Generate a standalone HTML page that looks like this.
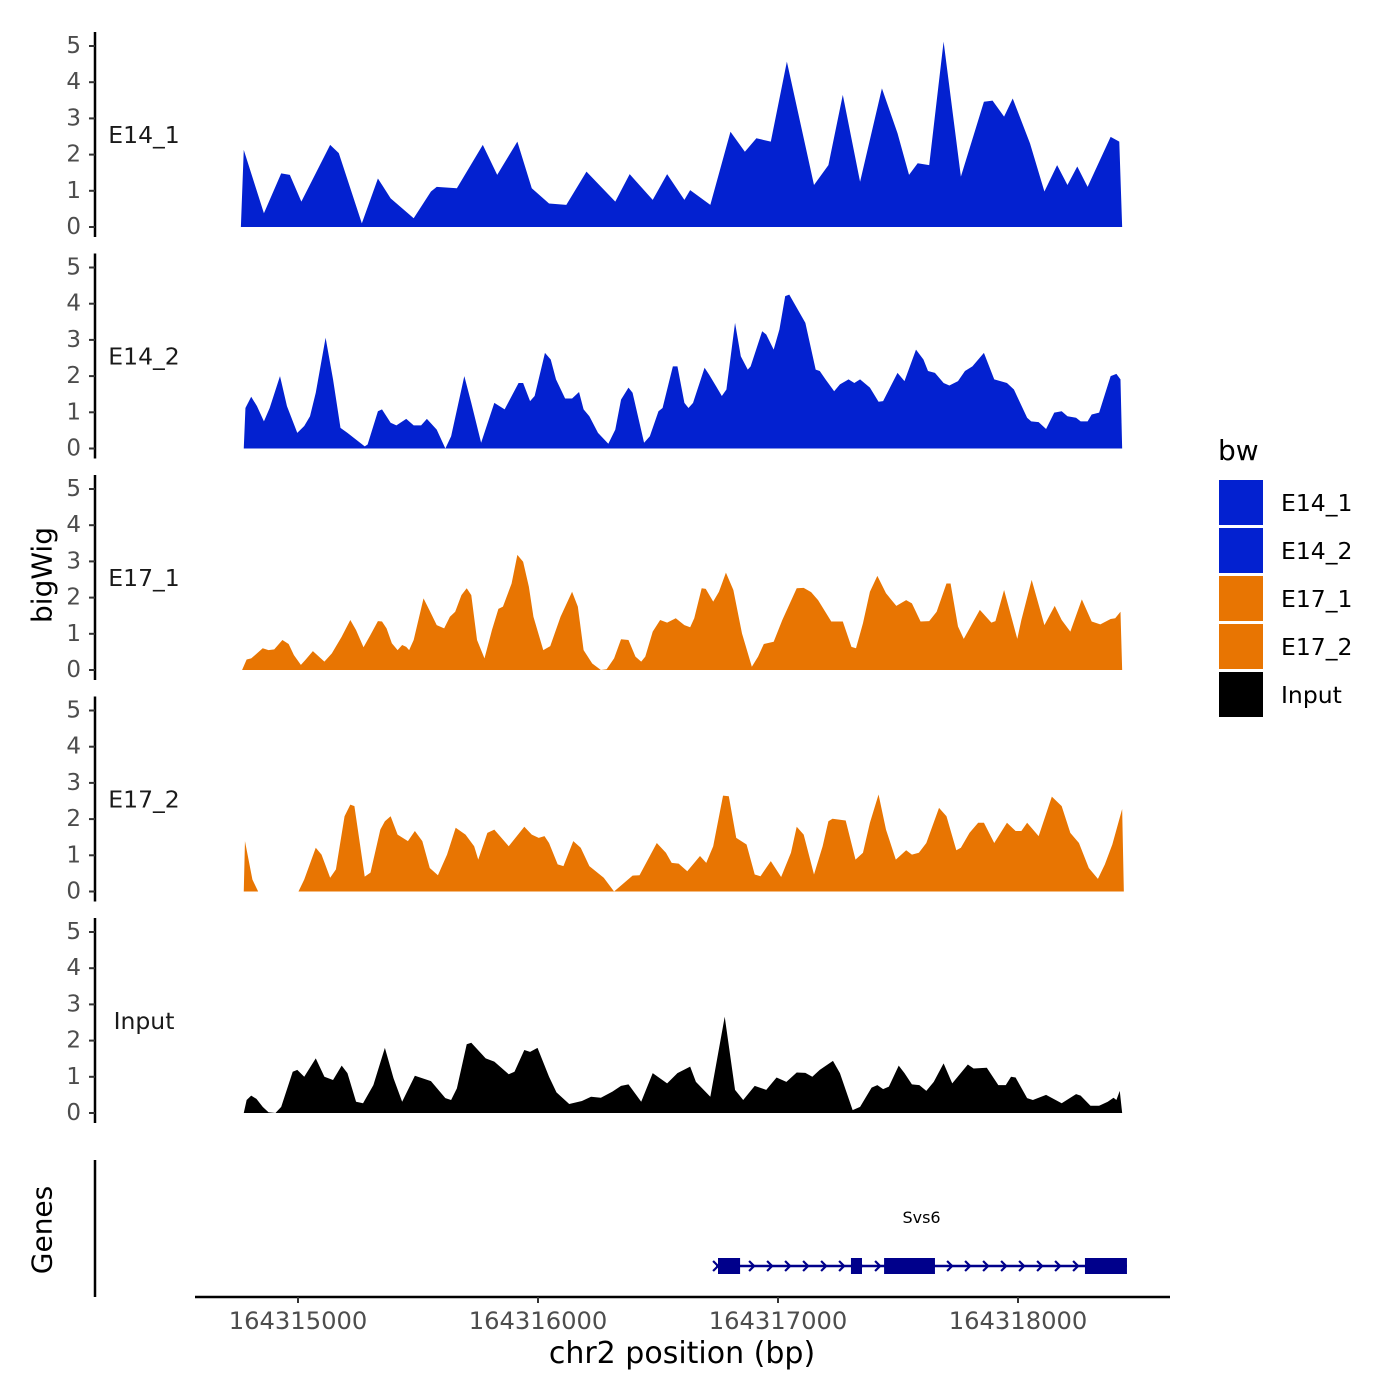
<!DOCTYPE html>
<html><head><meta charset="utf-8"><style>
html,body{margin:0;padding:0;background:#fff;}
svg{display:block;font-family:"DejaVu Sans","Liberation Sans",sans-serif;}
</style></head><body>
<svg id="chart" width="1400" height="1400" viewBox="0 0 1400 1400">
<g id="tracks"></g>
<g id="axes"></g>
<text x="42" y="575" transform="rotate(-90 42 575)" text-anchor="middle" dominant-baseline="central" font-size="28" fill="#000">bigWig</text>
<text x="42" y="1230" transform="rotate(-90 42 1230)" text-anchor="middle" dominant-baseline="central" font-size="28" fill="#000">Genes</text>
<text x="682" y="1363" text-anchor="middle" font-size="30" fill="#000">chr2 position (bp)</text>
<g id="legend"></g>
<g id="genes"></g>
</svg>
<script>
const regionStart = 164314714;
const trackNames = ["E14_1","E14_2","E17_1","E17_2","Input"];
const trackColors = ["#0321d0","#0321d0","#e87502","#e87502","#000000"];
const yTicks = [0,1,2,3,4,5];
const xTicks = [164315000,164316000,164317000,164318000];

const pos1 = [48,60,144,216,252,300,420,456,552,619,672,768,840,864,948,1056,1116,1200,1260,1332,1404,1488,1608,1668,1764,1824,1896,1920,2004,2088,2148,2196,2256,2323,2436,2496,2556,2628,2719,2784,2832,2868,2916,2976,3048,3144,3180,3228,3264,3336,3396,3449,3492,3533,3576,3672,3708,3720];
const val1 = [0,2.13,0.38,1.48,1.44,0.70,2.27,2.04,0.10,1.34,0.79,0.24,0.98,1.11,1.07,2.27,1.44,2.36,1.07,0.65,0.61,1.53,0.70,1.46,0.75,1.46,0.75,1.02,0.61,2.63,2.08,2.45,2.36,4.57,1.16,1.71,3.65,1.25,3.83,2.59,1.44,1.76,1.71,5.12,1.39,3.46,3.49,3.05,3.55,2.31,0.98,1.71,1.16,1.67,1.11,2.49,2.36,0];

const pos2 = [60,67,91,115,144,168,211,240,283,312,336,360,401,432,463,492,564,576,619,636,672,696,737,768,799,823,864,900,924,979,1008,1049,1104,1147,1205,1224,1253,1272,1315,1339,1361,1399,1428,1457,1476,1500,1536,1579,1608,1632,1663,1680,1728,1752,1788,1805,1848,1867,1896,1913,1932,1980,1999,2028,2052,2071,2107,2131,2160,2172,2220,2237,2268,2292,2316,2333,2376,2400,2443,2460,2484,2520,2544,2580,2604,2628,2669,2705,2724,2784,2813,2861,2892,2911,2940,2976,3000,3036,3065,3096,3144,3187,3240,3269,3324,3341,3372,3403,3437,3468,3492,3528,3547,3576,3593,3624,3672,3696,3713,3720];
const val2 = [0,1.12,1.43,1.17,0.75,1.12,2.0,1.17,0.43,0.62,0.89,1.54,3.06,1.91,0.57,0.43,0.06,0.11,1.03,1.08,0.71,0.64,0.82,0.64,0.64,0.82,0.52,0,0.34,2.0,1.26,0.16,1.26,1.08,1.81,1.81,1.31,1.45,2.64,2.46,1.91,1.38,1.38,1.56,1.08,0.89,0.43,0.13,0.52,1.35,1.68,1.54,0.16,0.34,1.03,1.12,2.27,2.27,1.26,1.12,1.26,2.23,2.04,1.72,1.45,1.63,3.47,2.55,2.18,2.27,3.24,3.15,2.73,3.29,4.21,4.25,3.75,3.47,2.18,2.14,1.91,1.58,1.77,1.91,1.81,1.91,1.68,1.29,1.31,2.09,1.86,2.73,2.46,2.14,2.09,1.81,1.74,1.86,2.14,2.27,2.64,1.91,1.81,1.63,0.85,0.75,0.73,0.54,0.99,1.03,0.89,0.85,0.75,0.75,0.94,0.99,2.0,2.06,1.91,0];

const pos3 = [53,72,91,139,163,187,221,247,269,298,317,348,396,427,468,504,528,559,588,619,636,655,677,701,720,737,749,768,809,833,864,895,919,941,967,989,1008,1032,1063,1094,1121,1140,1176,1200,1224,1248,1267,1308,1337,1380,1428,1452,1476,1512,1548,1572,1603,1632,1663,1692,1716,1733,1764,1795,1824,1860,1896,1920,1937,1968,1985,2016,2040,2069,2100,2136,2177,2203,2227,2268,2304,2364,2393,2424,2453,2508,2556,2592,2611,2640,2669,2700,2736,2779,2820,2844,2880,2916,2947,2988,3005,3036,3060,3096,3127,3175,3192,3228,3283,3300,3343,3396,3439,3468,3504,3552,3593,3629,3672,3691,3713,3720];
const val3 = [0,0.29,0.32,0.60,0.55,0.57,0.83,0.72,0.41,0.14,0.28,0.52,0.23,0.46,0.92,1.38,1.10,0.63,0.97,1.35,1.34,1.15,0.74,0.55,0.69,0.64,0.55,0.83,1.98,1.66,1.24,1.15,1.47,1.61,2.07,2.26,2.07,0.83,0.32,1.10,1.69,1.75,2.39,3.18,2.99,2.30,1.47,0.55,0.66,1.47,2.16,1.75,0.55,0.18,0,0.02,0.32,0.85,0.83,0.37,0.23,0.37,1.06,1.38,1.31,1.43,1.24,1.18,1.43,2.26,2.24,1.89,2.16,2.69,2.21,1.01,0.09,0.37,0.72,0.78,1.38,2.26,2.27,2.15,1.93,1.34,1.34,0.64,0.60,1.29,2.16,2.60,2.12,1.77,1.93,1.84,1.34,1.35,1.61,2.39,2.39,1.20,0.86,1.29,1.66,1.31,1.35,2.21,0.86,1.38,2.49,1.24,1.77,1.38,1.06,1.95,1.34,1.26,1.41,1.43,1.61,0];

const pos4 = [60,65,96,120,288,312,360,384,420,444,480,504,521,564,588,629,648,672,701,744,773,804,835,869,907,943,984,1020,1037,1075,1104,1164,1229,1260,1289,1313,1332,1368,1392,1433,1464,1500,1560,1603,1680,1709,1781,1819,1843,1872,1908,1961,1987,2016,2057,2081,2112,2155,2189,2213,2256,2299,2340,2364,2393,2436,2472,2496,2513,2568,2609,2640,2669,2705,2736,2777,2820,2844,2873,2904,2957,2988,3029,3048,3084,3120,3144,3187,3240,3276,3300,3324,3372,3427,3468,3504,3540,3581,3619,3648,3679,3720,3727];
const val4 = [0,1.39,0.33,0,0,0.33,1.21,1.02,0.38,0.61,2.08,2.40,2.36,0.41,0.52,1.71,1.94,2.08,1.57,1.39,1.67,1.39,0.65,0.45,1.02,1.76,1.57,1.25,0.88,1.62,1.71,1.25,1.79,1.57,1.48,1.53,1.34,0.75,0.70,1.39,1.21,0.70,0.38,0,0.44,0.45,1.34,1.07,0.79,0.77,0.56,0.98,0.79,1.25,2.65,2.63,1.48,1.30,0.47,0.42,0.84,0.40,1.07,1.79,1.57,0.47,1.25,1.94,2.01,1.96,0.88,1.07,1.90,2.68,1.71,0.88,1.14,1.02,1.07,1.34,2.31,2.08,1.14,1.21,1.62,1.90,1.90,1.34,1.90,1.67,1.67,1.90,1.53,2.62,2.36,1.62,1.34,0.65,0.35,0.75,1.30,2.28,0];

const pos5 = [60,72,91,113,139,163,192,216,264,283,312,360,396,432,468,492,528,557,600,648,684,720,773,840,900,924,948,989,1008,1068,1104,1164,1188,1229,1253,1284,1332,1363,1416,1469,1507,1548,1596,1632,1663,1716,1764,1824,1867,1920,1944,2004,2064,2107,2141,2189,2237,2280,2321,2364,2400,2429,2460,2515,2544,2597,2628,2676,2700,2724,2748,2789,2813,2844,2875,2904,2935,2976,3012,3077,3101,3156,3204,3235,3257,3276,3324,3348,3403,3468,3528,3547,3588,3624,3660,3684,3696,3710,3720];
const val5 = [0,0.36,0.48,0.39,0.17,0.02,0,0.17,1.14,1.19,1.00,1.51,1.00,0.91,1.31,1.10,0.31,0.27,0.77,1.80,0.96,0.31,1.03,0.88,0.41,0.36,0.68,1.90,1.94,1.51,1.42,1.07,1.14,1.74,1.69,1.80,1.00,0.57,0.25,0.33,0.45,0.42,0.59,0.75,0.79,0.31,1.10,0.82,1.10,1.28,0.86,0.45,2.66,0.64,0.36,0.75,0.64,0.98,0.86,1.12,1.11,1.00,1.19,1.44,1.10,0.08,0.17,0.70,0.77,0.66,0.73,1.31,1.10,0.79,0.77,0.61,0.86,1.37,0.82,1.34,1.23,1.25,0.77,0.77,1.00,0.98,0.41,0.36,0.50,0.27,0.52,0.48,0.20,0.20,0.31,0.42,0.36,0.61,0];

const trackPos = [pos1,pos2,pos3,pos4,pos5];
const trackVals = [val1,val2,val3,val4,val5];

const geneName = "Svs6";
const geneStart = 164316742;
const geneEnd = 164318454;
const exonStarts = [164316750,164317304,164317442,164318279];
const exonEnds = [164316842,164317350,164317654,164318454];

const NS = "http://www.w3.org/2000/svg";
function xScale(bp){ return 298 + (bp - 164315000) * 0.24; }
function zeroY(i){ return 227 + 221.5 * i; }
function yScale(i, v){ return zeroY(i) - v * 36.2; }
function mk(tag, attrs, parent){
  const e = document.createElementNS(NS, tag);
  for (const k in attrs) e.setAttribute(k, attrs[k]);
  parent.appendChild(e); return e;
}
const tracksG = document.getElementById('tracks');
const axesG = document.getElementById('axes');

trackNames.forEach((name, i) => {
  const p = trackPos[i], v = trackVals[i];
  const n = Math.min(p.length, v.length);
  let d = "M" + xScale(regionStart + p[0]).toFixed(2) + "," + zeroY(i);
  for (let k = 0; k < n; k++) {
    d += " L" + xScale(regionStart + p[k]).toFixed(2) + "," + yScale(i, v[k]).toFixed(2);
  }
  d += " L" + xScale(regionStart + p[n-1]).toFixed(2) + "," + zeroY(i) + " Z";
  const path = mk('path', {d: d, fill: trackColors[i], stroke: 'none'}, tracksG);
  
  

  const axis = mk('line', {x1: 95, x2: 95, y1: zeroY(i) - 195, y2: zeroY(i) + 10, stroke: '#000', 'stroke-width': 2.5}, axesG);
  
  
  yTicks.forEach(t => {
    const y = yScale(i, t);
    const tk = mk('line', {x1: 89, x2: 95, y1: y, y2: y, stroke: '#333', 'stroke-width': 2}, axesG);
    
    
    const tl = mk('text', {x: 81, y: y, 'text-anchor': 'end', 'dominant-baseline': 'central', 'font-size': 23, fill: '#4d4d4d'}, axesG);
    tl.textContent = t;
    
    
  });
  const lab = mk('text', {x: 144, y: zeroY(i) - 92, 'text-anchor': 'middle', 'dominant-baseline': 'central', 'font-size': 23.5, fill: '#1a1a1a'}, axesG);
  lab.textContent = name;
  
  
});

const ga = mk('line', {x1: 95, x2: 95, y1: 1160, y2: 1297, stroke: '#000', 'stroke-width': 2.5}, axesG);


const xa = mk('line', {x1: 195, x2: 1170, y1: 1297, y2: 1297, stroke: '#000', 'stroke-width': 2.5}, axesG);


xTicks.forEach(t => {
  const x = xScale(t);
  const tk = mk('line', {x1: x, x2: x, y1: 1297, y2: 1303, stroke: '#333', 'stroke-width': 2}, axesG);
  
  
  const tl = mk('text', {x: x, y: 1329, 'text-anchor': 'middle', 'font-size': 24.2, fill: '#4d4d4d'}, axesG);
  tl.textContent = t;
  
  
});

const genesG = document.getElementById('genes');
const gy = 1266;
const gl = mk('line', {x1: xScale(geneStart), x2: xScale(geneEnd), y1: gy, y2: gy, stroke: '#00008b', 'stroke-width': 2.5}, genesG);


for (let x = xScale(geneStart); x < xScale(geneEnd) - 6; x += 18) {
  const ch = mk('path', {d: `M${x-3},${gy-5} L${x+2},${gy} L${x-3},${gy+5}`, fill: 'none', stroke: '#00008b', 'stroke-width': 2.2}, genesG);
  
  
}
exonStarts.forEach((s, k) => {
  const ex = mk('rect', {x: xScale(s), y: gy - 8, width: xScale(exonEnds[k]) - xScale(s), height: 16, fill: '#00008b'}, genesG);
  
  
});
const gn = mk('text', {x: (xScale(exonStarts[2]) + xScale(exonEnds[2])) / 2 + 12, y: 1223, 'text-anchor': 'middle', 'font-size': 16, fill: '#000'}, genesG);
gn.textContent = geneName;



const legG = document.getElementById('legend');
const lt = mk('text', {x: 1218, y: 460, 'font-size': 28, fill: '#000'}, legG);
lt.textContent = 'bw';


trackNames.forEach((name, i) => {
  const y = 480 + i * 48;
  const r = mk('rect', {x: 1219, y: y, width: 44, height: 45, fill: trackColors[i]}, legG);
  
  
  const t = mk('text', {x: 1281, y: y + 23, 'dominant-baseline': 'central', 'font-size': 23.5, fill: '#000'}, legG);
  t.textContent = name;
  
  
});
</script>
</body></html>
